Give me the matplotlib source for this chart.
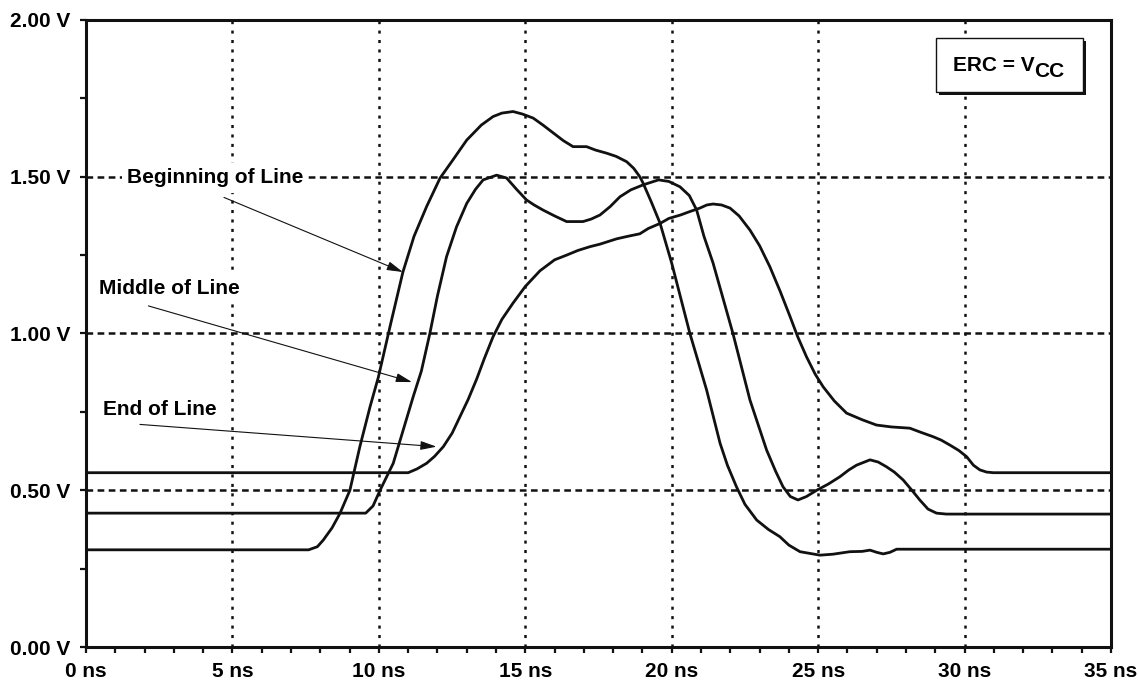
import numpy as np
import matplotlib
matplotlib.use("Agg")
import matplotlib.pyplot as plt
from matplotlib.ticker import MultipleLocator, FuncFormatter
from matplotlib.patches import Rectangle

plt.rcParams['font.family'] = ['Liberation Sans', 'DejaVu Sans']
plt.rcParams['font.weight'] = 'bold'
plt.rcParams['font.size'] = 15
plt.rcParams['lines.scale_dashes'] = False

# beginning of line
t_begin = [0, 7.6, 7.9, 8.1, 8.4, 8.67, 9.01, 9.35, 9.7, 9.98, 10.4, 10.82, 11.2, 11.63,
           12.09, 12.5, 13.0, 13.5, 13.9, 14.2, 14.58, 14.9, 15.27, 15.6, 15.95, 16.3,
           16.63, 17.09, 17.4, 17.78, 18.1, 18.46, 18.7, 18.91, 19.02, 19.3, 19.6, 20.0,
           20.62, 21.19, 21.65, 21.9, 22.21, 22.5, 22.9, 23.3, 23.69, 24.0, 24.38, 25.06,
           25.5, 26.08, 26.5, 26.77, 27.0, 27.22, 27.45, 27.68, 35]
v_begin = [0.31, 0.31, 0.32, 0.341, 0.38, 0.426, 0.50, 0.639, 0.767, 0.86, 1.03, 1.196, 1.31, 1.405,
           1.496, 1.55, 1.617, 1.665, 1.692, 1.703, 1.708, 1.70, 1.687, 1.665, 1.64, 1.615,
           1.596, 1.596, 1.585, 1.575, 1.565, 1.548, 1.527, 1.50, 1.48, 1.42, 1.352, 1.224,
           1.0, 0.82, 0.65, 0.58, 0.511, 0.455, 0.405, 0.375, 0.352, 0.325, 0.304, 0.293,
           0.296, 0.304, 0.305, 0.309, 0.302, 0.297, 0.302, 0.312, 0.312]

# middle of line
t_mid = [0, 9.55, 9.8, 10.04, 10.49, 10.83, 11.17, 11.45, 11.74, 12.0, 12.31, 12.65, 13.0,
         13.3, 13.56, 14.02, 14.36, 14.7, 15.04, 15.3, 15.6, 16.0, 16.41, 16.97, 17.25,
         17.55, 17.9, 18.23, 18.6, 19.02, 19.55, 19.9, 20.28, 20.6, 20.85, 21.1, 21.41,
         22.09, 22.67, 23.24, 23.55, 23.8, 24.05, 24.31, 24.6, 24.95, 25.35, 25.74, 26.05,
         26.31, 26.77, 27.05, 27.33, 27.6, 27.9, 28.2, 28.47, 28.75, 29.04, 29.38, 35]
v_mid = [0.427, 0.427, 0.45, 0.50, 0.586, 0.692, 0.798, 0.88, 1.0, 1.12, 1.245, 1.34, 1.415,
         1.46, 1.49, 1.505, 1.496, 1.46, 1.426, 1.41, 1.394, 1.375, 1.357, 1.357, 1.365,
         1.378, 1.405, 1.436, 1.458, 1.474, 1.49, 1.485, 1.468, 1.44, 1.394, 1.31, 1.225,
         1.0, 0.788, 0.628, 0.56, 0.511, 0.48, 0.469, 0.48, 0.50, 0.52, 0.543, 0.565,
         0.58, 0.597, 0.59, 0.575, 0.558, 0.533, 0.50, 0.469, 0.44, 0.427, 0.424, 0.424]

# end of line
t_end = [0, 11.0, 11.3, 11.63, 11.9, 12.2, 12.5, 12.77, 13.05, 13.34, 13.6, 13.9, 14.2, 14.58,
         15.0, 15.5, 16.0, 16.41, 16.8, 17.21, 17.55, 18.12, 18.5, 18.91, 19.2, 19.6, 19.9,
         20.3, 20.62, 20.96, 21.2, 21.41, 21.7, 21.99, 22.3, 22.67, 23.0, 23.35, 23.7, 24.04,
         24.3, 24.6, 24.9, 25.17, 25.55, 25.97, 26.5, 26.99, 27.5, 28.13, 28.5, 28.92,
         29.2, 29.5, 29.8, 30.07, 30.3, 30.52, 30.75, 30.98, 35]
v_end = [0.556, 0.556, 0.568, 0.586, 0.608, 0.639, 0.682, 0.735, 0.79, 0.855, 0.92, 0.99, 1.045,
         1.097, 1.15, 1.20, 1.235, 1.25, 1.265, 1.277, 1.285, 1.302, 1.31, 1.318, 1.335, 1.351,
         1.367, 1.378, 1.389, 1.40, 1.41, 1.413, 1.41, 1.40, 1.375, 1.33, 1.28, 1.213, 1.135,
         1.054, 0.99, 0.926, 0.87, 0.83, 0.785, 0.746, 0.725, 0.708, 0.702, 0.698, 0.685,
         0.671, 0.66, 0.644, 0.627, 0.607, 0.58, 0.565, 0.558, 0.556, 0.556]

labels = ['Beginning of Line', 'Middle of Line', 'End of Line']
label_xy = [(1.39, 1.496), (0.44, 1.145), (0.57, 0.756)]
arrow_start = [(4.71, 1.434), (2.13, 1.088), (1.84, 0.710)]
arrow_tip = [(10.82, 1.196), (11.13, 0.845), (11.97, 0.639)]

fig = plt.figure(figsize=(11.38, 6.82), dpi=100)
ax = fig.add_axes([0.0756, 0.0513, 0.9007, 0.9194])

for t, v in [(t_begin, v_begin), (t_mid, v_mid), (t_end, v_end)]:
    ax.plot(t, v, color='#111111', lw=2.0, solid_joinstyle='round', zorder=4)

ax.set_xlim(0, 35)
ax.set_ylim(0, 2.0)
ax.xaxis.set_major_locator(MultipleLocator(5))
ax.xaxis.set_minor_locator(MultipleLocator(1))
ax.yaxis.set_major_locator(MultipleLocator(0.5))
ax.yaxis.set_minor_locator(MultipleLocator(0.25))
ax.xaxis.set_major_formatter(FuncFormatter(lambda x, p: '%d ns' % x))
ax.yaxis.set_major_formatter(FuncFormatter(lambda y, p: '%.2f V' % y))
ax.tick_params(which='both', direction='out', length=4.5, width=1.6, color='#111111')
ax.tick_params(axis='y', pad=7)
ax.tick_params(axis='x', pad=6)

ax.xaxis.grid(True, color='#111111', lw=1.8, linestyle=(0, (2.2, 4.6)))
ax.yaxis.grid(True, color='#111111', lw=1.8, linestyle=(0, (4.8, 3.2)))
ax.set_axisbelow(True)
for s in ax.spines.values():
    s.set_linewidth(2.2)
    s.set_color('#111111')
    s.set_zorder(5)

for lab, xy, a0, a1 in zip(labels, label_xy, arrow_start, arrow_tip):
    ax.text(xy[0], xy[1], lab, ha='left', va='center', fontsize=15,
            bbox=dict(boxstyle='square,pad=0.25', fc='white', ec='none'), zorder=3)
    ax.annotate('', xy=a1, xytext=a0,
                arrowprops=dict(arrowstyle='-|>,head_length=0.65,head_width=0.18',
                                mutation_scale=15, lw=0.8, color='#111111',
                                shrinkA=0, shrinkB=0), zorder=3)

# ERC box with shadow
bx, by, bw, bh = 0.829, 0.885, 0.144, 0.086
ax.add_patch(Rectangle((bx + 0.003, by - 0.005), bw, bh, transform=ax.transAxes,
                       fc='#111111', ec='none', zorder=6))
ax.add_patch(Rectangle((bx, by), bw, bh, transform=ax.transAxes,
                       fc='white', ec='#111111', lw=1.0, zorder=7))
ax.text(0.925, 0.919, 'ERC = V', transform=ax.transAxes, ha='right', va='baseline',
        fontsize=15, zorder=8)
ax.text(0.925, 0.909, 'CC', transform=ax.transAxes, ha='left', va='baseline',
        fontsize=15, zorder=8)

fig.savefig('out.png', dpi=100)
